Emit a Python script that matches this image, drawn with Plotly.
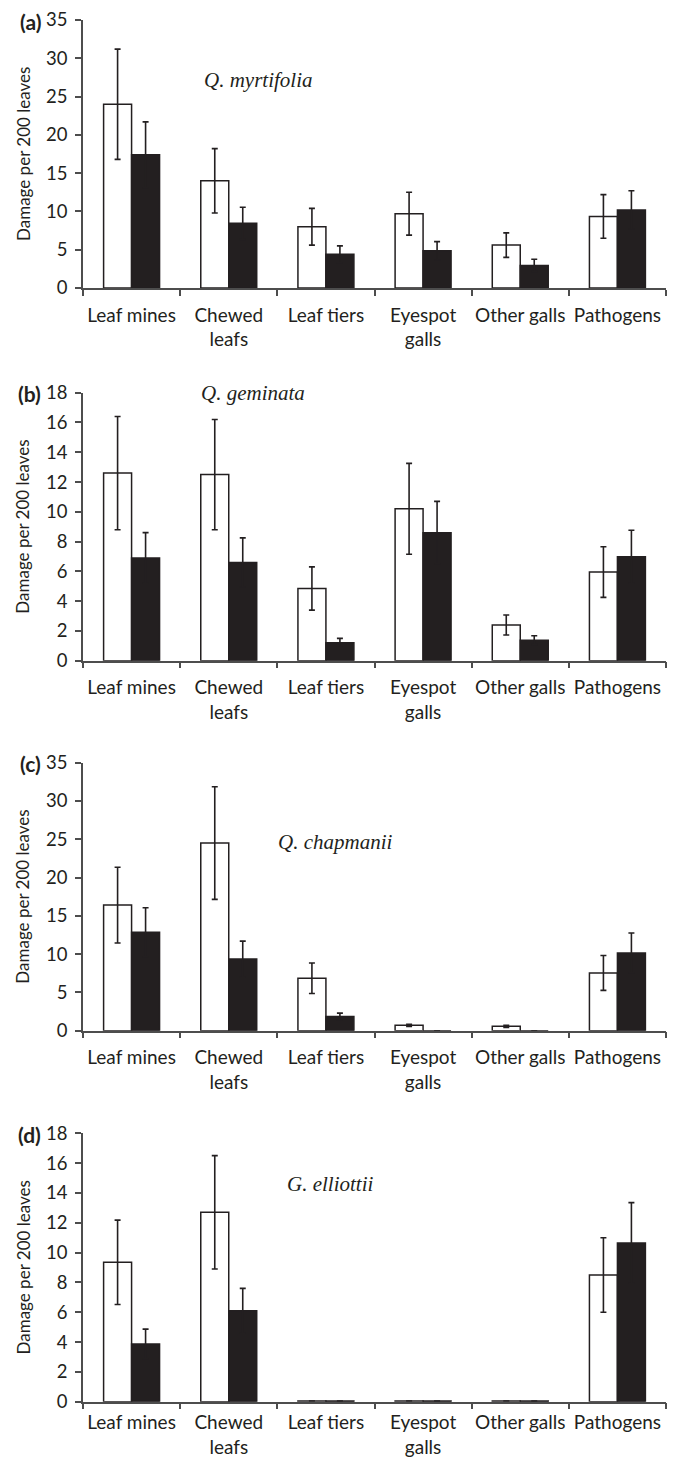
import plotly.graph_objects as go

# ---------------- data ----------------
categories = ["Leaf mines", "Chewed<br>leafs", "Leaf tiers", "Eyespot<br>galls", "Other galls", "Pathogens"]

panel_labels = ["(a)", "(b)", "(c)", "(d)"]
species = ["Q. myrtifolia", "Q. geminata", "Q. chapmanii", "G. elliottii"]
y_max = [35, 18, 35, 18]
y_dtick = [5, 2, 5, 2]
y_title = "Damage per 200 leaves"

a_open = [24.0, 14.0, 8.0, 9.7, 5.6, 9.35]
a_open_err = [7.2, 4.2, 2.4, 2.8, 1.6, 2.85]
a_filled = [17.4, 8.45, 4.4, 4.85, 2.95, 10.2]
a_filled_err = [4.3, 2.1, 1.1, 1.2, 0.8, 2.5]

b_open = [12.6, 12.5, 4.85, 10.2, 2.4, 5.95]
b_open_err = [3.8, 3.7, 1.45, 3.05, 0.67, 1.7]
b_filled = [6.9, 6.6, 1.2, 8.6, 1.38, 6.98]
b_filled_err = [1.7, 1.65, 0.3, 2.1, 0.3, 1.78]

c_open = [16.4, 24.5, 6.85, 0.7, 0.57, 7.55]
c_open_err = [4.95, 7.35, 2.0, 0.15, 0.15, 2.28]
c_filled = [12.85, 9.35, 1.85, 0.0, 0.0, 10.15]
c_filled_err = [3.2, 2.35, 0.45, 0.0, 0.0, 2.6]

d_open = [9.35, 12.7, 0.05, 0.05, 0.05, 8.5]
d_open_err = [2.83, 3.8, 0.0, 0.0, 0.0, 2.5]
d_filled = [3.87, 6.1, 0.05, 0.05, 0.05, 10.65]
d_filled_err = [1.0, 1.5, 0.0, 0.0, 0.0, 2.7]

panels = [
    (a_open, a_open_err, a_filled, a_filled_err),
    (b_open, b_open_err, b_filled, b_filled_err),
    (c_open, c_open_err, c_filled, c_filled_err),
    (d_open, d_open_err, d_filled, d_filled_err),
]

# ---------------- layout geometry (pixels) ----------------
W, H = 680, 1461
x_left, x_right = 83, 666
plot_tops = [20, 392.7, 762.7, 1133.3]
plot_bottoms = [288, 660.7, 1030.7, 1401.7]
label_standoff = [9, 9, 9, 3]
species_pos = [(258, 80), (253, 393), (335, 842), (330, 1184)]

INK = "#231f20"
AXIS = "#4d4d4d"
FONT = "Lato"


def px(x):
    return x / W


def py(y):
    return 1 - y / H


fig = go.Figure()
layout = dict(
    width=W, height=H, autosize=False,
    margin=dict(l=0, r=0, t=0, b=0),
    paper_bgcolor="white", plot_bgcolor="white",
    showlegend=False,
    barmode="group", bargap=0.424, bargroupgap=0,
    font=dict(family=FONT, color=INK, size=18),
)
annotations = []

for i, (o, oe, f, fe) in enumerate(panels):
    n = "" if i == 0 else str(i + 1)
    xa, ya = "x" + n, "y" + n
    fig.add_trace(go.Bar(
        x=categories, y=o, xaxis=xa, yaxis=ya,
        marker=dict(color="white", line=dict(color=INK, width=1.5)),
        error_y=dict(type="data", array=oe, visible=True, color=INK, thickness=1.6, width=3),
        offsetgroup="open",
    ))
    fig.add_trace(go.Bar(
        x=categories, y=f, xaxis=xa, yaxis=ya,
        marker=dict(color=INK, line=dict(color=INK, width=1.5)),
        error_y=dict(type="data", array=fe, visible=True, color=INK, thickness=1.6, width=3),
        offsetgroup="filled",
    ))
    dom_y = [py(plot_bottoms[i]), py(plot_tops[i])]
    layout["xaxis" + n] = dict(
        domain=[px(x_left), px(x_right)], anchor=ya,
        showline=True, linecolor=AXIS, linewidth=1.5,
        ticks="outside", tickson="boundaries", ticklen=6, tickwidth=1.5, tickcolor=AXIS,
        showgrid=False, zeroline=False,
        tickfont=dict(family=FONT, size=19, color=INK),
        tickangle=0, automargin=False,
        ticklabelstandoff=label_standoff[i],
        fixedrange=True,
    )
    layout["yaxis" + n] = dict(
        domain=dom_y, anchor=xa,
        range=[0, y_max[i]], dtick=y_dtick[i], tick0=0,
        showline=True, linecolor=AXIS, linewidth=1.5,
        ticks="outside", ticklen=6, tickwidth=1.5, tickcolor=AXIS,
        showgrid=False, zeroline=False,
        tickfont=dict(family=FONT, size=18.5, color=INK),
        automargin=False,
        ticklabelstandoff=4,
        fixedrange=True,
    )
    # y-axis title
    annotations.append(dict(
        text=y_title, xref="paper", yref="paper",
        x=px(23), y=py((plot_tops[i] + plot_bottoms[i]) / 2),
        xanchor="center", yanchor="middle", textangle=-90, showarrow=False,
        font=dict(family=FONT, size=17, color=INK),
    ))
    # panel label
    annotations.append(dict(
        text="<b>" + panel_labels[i] + "</b>", xref="paper", yref="paper",
        x=px(43), y=py(plot_tops[i] + 1), xanchor="right", yanchor="middle",
        showarrow=False, font=dict(family=FONT, size=21, color=INK),
    ))
    # species name
    sx, sy = species_pos[i]
    annotations.append(dict(
        text="<i>" + species[i] + "</i>", xref="paper", yref="paper",
        x=px(sx), y=py(sy), xanchor="center", yanchor="middle",
        showarrow=False, font=dict(family="Liberation Serif", size=21, color=INK),
    ))

layout["annotations"] = annotations
fig.update_layout(**layout)
fig.write_html("out.html")
